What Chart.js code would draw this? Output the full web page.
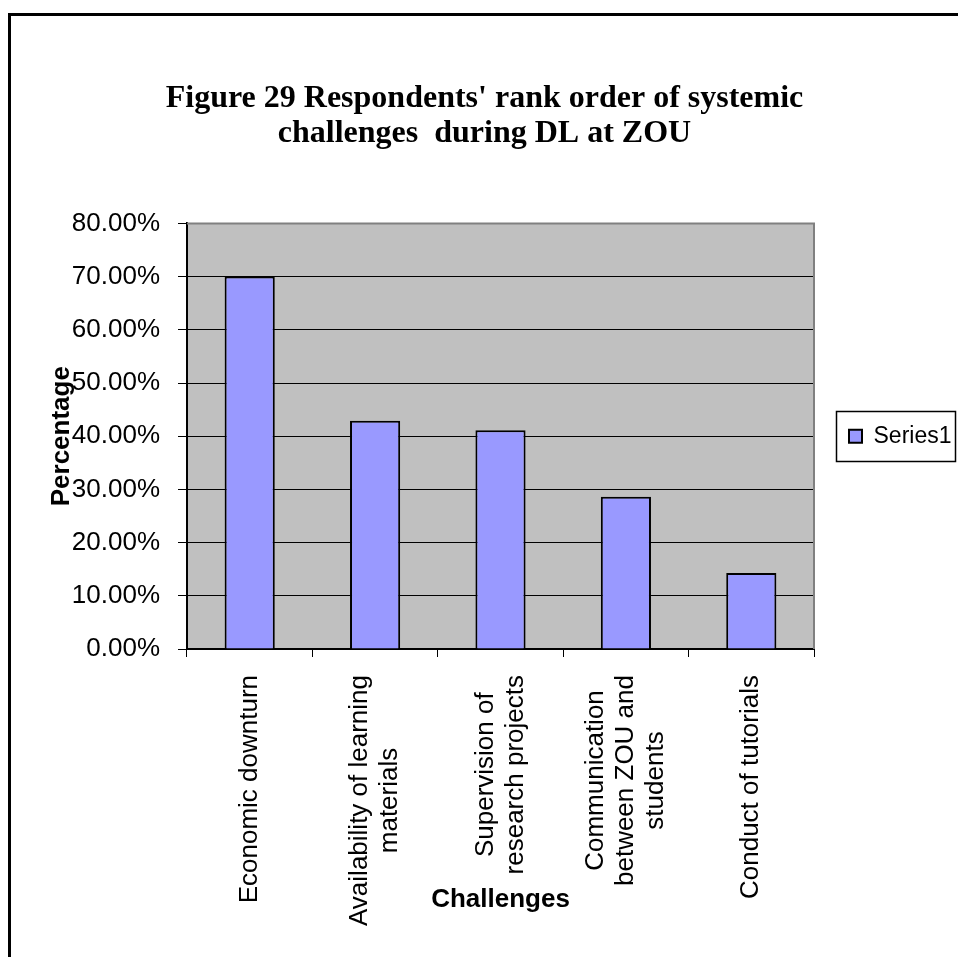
<!DOCTYPE html>
<html>
<head>
<meta charset="utf-8">
<title>Figure 29</title>
<script src="https://cdn.jsdelivr.net/npm/chart.js@4.4.1/dist/chart.umd.min.js"></script>
<style>
  html,body{margin:0;padding:0;background:#fff;overflow:hidden;}
  #frame{position:absolute;left:8px;top:13px;width:947px;height:941px;border-left:3px solid #000;border-top:3px solid #000;}
</style>
</head>
<body>
<div id="frame"><canvas id="chartRank"></canvas></div>
<script>
// data
const titleLines = ["Figure 29 Respondents' rank order of systemic", "challenges  during DL at ZOU"];
const challenges = [
  ['Economic downturn'],
  ['Availability of learning', 'materials'],
  ['Supervision of', 'research projects'],
  ['Communication', 'between ZOU and', 'students'],
  ['Conduct of tutorials']
];
const seriesName = 'Series1';
const percentages = [70.0, 42.9, 41.1, 28.6, 14.3];
const yTicks = { min: 0, max: 80, step: 10 };

(function(){
  const SANS = "'Liberation Sans', Arial, sans-serif";
  const SERIF = "'Liberation Serif', 'Times New Roman', serif";

  // grey plot background
  const plotBg = {
    id: 'plotBg',
    beforeDraw(chart){
      const { ctx, chartArea: a } = chart;
      ctx.save(); ctx.fillStyle = '#c0c0c0';
      ctx.fillRect(a.left, a.top, a.right - a.left, a.bottom - a.top);
      ctx.restore();
    }
  };

  // grey top/right edge of the plot + box round the legend
  const frames = {
    id: 'frames',
    afterDraw(chart){
      const { ctx, chartArea: a } = chart;
      ctx.save();
      ctx.strokeStyle = '#808080'; ctx.lineWidth = 2;
      ctx.beginPath(); ctx.moveTo(a.left, a.top); ctx.lineTo(a.right, a.top); ctx.lineTo(a.right, a.bottom); ctx.stroke();
      const hb = chart.legend && chart.legend.legendHitBoxes && chart.legend.legendHitBoxes[0];
      if (hb) {
        ctx.strokeStyle = '#000'; ctx.lineWidth = 1.5;
        ctx.strokeRect(Math.round(hb.left - 13) + 0.5, Math.round(hb.top + hb.height/2 - 25) + 0.5, 119, 50);
      }
      ctx.restore();
    }
  };

  // rotated category labels, lines centred on each other
  const catLabels = {
    id: 'catLabels',
    afterDraw(chart){
      const { ctx } = chart;
      const xs = chart.scales.x;
      const lh = 30;
      ctx.save();
      ctx.font = '26px ' + SANS; ctx.fillStyle = '#000';
      ctx.textAlign = 'center'; ctx.textBaseline = 'middle';
      chart.data.labels.forEach((lines, i) => {
        const w = Math.max(...lines.map(l => ctx.measureText(l).width));
        const x = xs.getPixelForValue(i);
        const y = xs.top + 26 + w/2;
        ctx.save(); ctx.translate(x, y); ctx.rotate(-Math.PI/2);
        lines.forEach((l, j) => ctx.fillText(l, 0, (j - (lines.length - 1)/2) * lh));
        ctx.restore();
      });
      ctx.restore();
    }
  };

  function build(){
    const ctx = document.getElementById('chartRank');
    new Chart(ctx, {
      type: 'bar',
      data: {
        labels: challenges,
        datasets: [{
          label: seriesName, data: percentages,
          backgroundColor: '#9999ff', borderColor: '#000', borderWidth: 2,
          barPercentage: 0.4, categoryPercentage: 1
        }]
      },
      options: {
        responsive: true, maintainAspectRatio: false, animation: false,
        layout: { padding: 0 },
        plugins: {
          title: {
            display: true, text: titleLines, color: '#000',
            font: { family: SERIF, size: 32, weight: 'bold', lineHeight: 1.1 },
            padding: { top: 65, bottom: 72 }
          },
          legend: {
            position: 'right', fullSize: false, maxWidth: 144,
            labels: { color: '#000', font: { family: SANS, size: 23 }, boxWidth: 13, boxHeight: 13, padding: 35 }
          },
          tooltip: { enabled: false }
        },
        scales: {
          x: {
            afterFit(s){ s.height = 308; },
            grid: { offset: true, drawOnChartArea: false, drawTicks: true, tickLength: 8, color: '#000' },
            border: { color: '#000', width: 2 },
            ticks: { display: false },
            title: { display: true, text: 'Challenges', color: '#000',
                     font: { family: SANS, size: 26, weight: 'bold' }, padding: { top: 0, bottom: 42 } }
          },
          y: {
            min: yTicks.min, max: yTicks.max,
            afterFit(s){ s.width = 176; },
            grid: { color: '#000', lineWidth: 1, tickLength: 9 },
            border: { color: '#000', width: 2 },
            ticks: { stepSize: yTicks.step, padding: 18, color: '#000', font: { family: SANS, size: 26 },
                     callback: v => v.toFixed(2) + '%' },
            title: { display: true, text: 'Percentage', color: '#000',
                     font: { family: SANS, size: 26, weight: 'bold' }, padding: { top: 35, bottom: 0 } }
          }
        }
      },
      plugins: [plotBg, frames, catLabels]
    });
  }

  document.addEventListener('DOMContentLoaded', build);
})();
</script>
</body>
</html>
